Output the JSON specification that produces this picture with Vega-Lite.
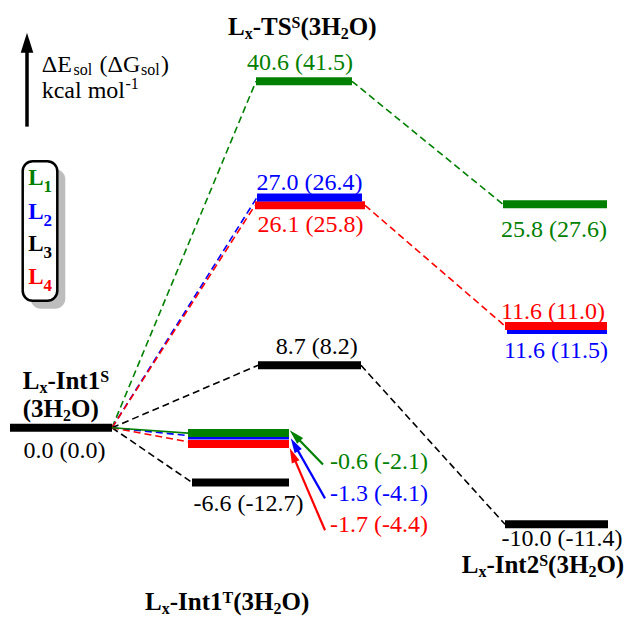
{
  "$schema": "https://vega.github.io/schema/vega-lite/v6.json",
  "width": 629,
  "height": 618,
  "padding": 0,
  "autosize": {"type": "fit", "contains": "padding"},
  "background": "white",
  "config": {"view": {"stroke": null}, "text": {"font": "'Liberation Serif', 'Times New Roman', Times, serif"}},
  "datasets": {
    "legendbox": [
      {"part": "shadow", "x": 30.7, "x2": 65.3, "e": 30.23, "e2": 13.92},
      {"part": "box", "x": 22.7, "x2": 57.3, "e": 31.16, "e2": 14.85}
    ],
    "bars": [
      {"series": "L3", "x": 10, "x2": 112, "e": 0},
      {"series": "L4", "x": 255, "x2": 365, "e": 26.0},
      {"series": "L2", "x": 257, "x2": 362, "e": 26.93},
      {"series": "L1", "x": 256, "x2": 352, "e": 40.5},
      {"series": "L3", "x": 258, "x2": 361, "e": 7.3},
      {"series": "L1", "x": 503, "x2": 607, "e": 26.12},
      {"series": "L2", "x": 507, "x2": 607, "e": 11.44},
      {"series": "L4", "x": 505, "x2": 607, "e": 11.9},
      {"series": "L3", "x": 505, "x2": 608, "e": -11.28},
      {"series": "L4", "x": 188, "x2": 289, "e": -1.9},
      {"series": "L2", "x": 188, "x2": 289, "e": -0.91},
      {"series": "L1", "x": 188, "x2": 289, "e": -0.62},
      {"series": "L3", "x": 192, "x2": 289, "e": -6.39}
    ],
    "dashed": [
      {"series": "L1", "x": 112, "e": 0, "x2": 256, "e2": 40.5},
      {"series": "L1", "x": 352, "e": 40.5, "x2": 503, "e2": 26.12},
      {"series": "L2", "x": 112, "e": 0, "x2": 257, "e2": 26.93},
      {"series": "L4", "x": 112, "e": 0, "x2": 255, "e2": 26.0},
      {"series": "L4", "x": 365, "e": 26.0, "x2": 505, "e2": 11.9},
      {"series": "L3", "x": 112, "e": 0, "x2": 258, "e2": 7.3},
      {"series": "L3", "x": 361, "e": 7.3, "x2": 505, "e2": -11.28},
      {"series": "L3", "x": 112, "e": 0, "x2": 192, "e2": -6.39},
      {"series": "L2", "x": 112, "e": 0, "x2": 188, "e2": -0.91},
      {"series": "L4", "x": 112, "e": 0, "x2": 200, "e2": -1.9}
    ],
    "solid": [
      {"series": "L1", "x": 112, "e": 0, "x2": 188, "e2": -0.62}
    ],
    "arrows": [
      {"series": "L1", "x": 323, "e": -4.29, "x2": 294.9, "e2": -0.91},
      {"series": "L2", "x": 325, "e": -8.25, "x2": 294.5, "e2": -1.97},
      {"series": "L4", "x": 325, "e": -11.98, "x2": 292.7, "e2": -3.17}
    ],
    "vals_center": [
      {"series": "L1", "x": 300, "e": 41.84, "text": "40.6 (41.5)"},
      {"series": "L2", "x": 309.5, "e": 27.75, "text": "27.0 (26.4)"},
      {"series": "L4", "x": 310.5, "e": 22.85, "text": "26.1 (25.8)"},
      {"series": "L1", "x": 554, "e": 22.27, "text": "25.8 (27.6)"},
      {"series": "L4", "x": 553, "e": 12.66, "text": "11.6 (11.0)"},
      {"series": "L2", "x": 556, "e": 8.17, "text": "11.6 (11.5)"},
      {"series": "L3", "x": 316.7, "e": 8.64, "text": "8.7 (8.2)"},
      {"series": "L3", "x": 64.5, "e": -3.59, "text": "0.0 (0.0)"},
      {"series": "L3", "x": 248.5, "e": -9.73, "text": "-6.6 (-12.7)"},
      {"series": "L3", "x": 562, "e": -13.85, "text": "-10.0 (-11.4)"}
    ],
    "vals_left": [
      {"series": "L1", "x": 330, "e": -4.76, "text": "-0.6 (-2.1)"},
      {"series": "L2", "x": 330, "e": -8.57, "text": "-1.3 (-4.1)"},
      {"series": "L4", "x": 330, "e": -12.21, "text": "-1.7 (-4.4)"}
    ],
    "bold_main": [
      {"x": 228, "e": 45.92, "text": "L"},
      {"x": 252.7, "e": 45.92, "text": "-TS"},
      {"x": 300.5, "e": 45.92, "text": "(3H"},
      {"x": 348.8, "e": 45.92, "text": "O)"},
      {"x": 22.7, "e": 4.56, "text": "L"},
      {"x": 47.4, "e": 4.56, "text": "-Int1"},
      {"x": 22.7, "e": 1.3, "text": "(3H"},
      {"x": 71, "e": 1.3, "text": "O)"},
      {"x": 145, "e": -21.3, "text": "L"},
      {"x": 169.7, "e": -21.3, "text": "-Int1"},
      {"x": 233.2, "e": -21.3, "text": "(3H"},
      {"x": 281.5, "e": -21.3, "text": "O)"},
      {"x": 461.7, "e": -16.99, "text": "L"},
      {"x": 486.4, "e": -16.99, "text": "-Int2"},
      {"x": 548.1, "e": -16.99, "text": "(3H"},
      {"x": 596.4, "e": -16.99, "text": "O)"}
    ],
    "bold_small": [
      {"x": 244.7, "e": 45.46, "text": "x"},
      {"x": 340.8, "e": 45.46, "text": "2"},
      {"x": 291.6, "e": 46.74, "text": "S"},
      {"x": 39.4, "e": 4.1, "text": "x"},
      {"x": 100.2, "e": 5.38, "text": "S"},
      {"x": 63, "e": 0.84, "text": "2"},
      {"x": 161.7, "e": -21.77, "text": "x"},
      {"x": 273.5, "e": -21.77, "text": "2"},
      {"x": 222.5, "e": -20.49, "text": "T"},
      {"x": 478.4, "e": -17.46, "text": "x"},
      {"x": 588.4, "e": -17.46, "text": "2"},
      {"x": 539.2, "e": -16.17, "text": "S"}
    ],
    "reg_main": [
      {"x": 41.7, "e": 41.53, "text": "ΔE"},
      {"x": 99.5, "e": 41.53, "text": "(ΔG"},
      {"x": 161, "e": 41.53, "text": ")"},
      {"x": 41.7, "e": 38.55, "text": "kcal mol"}
    ],
    "reg_small": [
      {"x": 73.5, "e": 41.2, "text": "sol"},
      {"x": 141, "e": 41.2, "text": "sol"},
      {"x": 125.5, "e": 39.6, "text": "-1"}
    ],
    "legend_main": [
      {"series": "L1", "x": 28.3, "e": 28.33, "text": "L"},
      {"series": "L2", "x": 28.3, "e": 24.43, "text": "L"},
      {"series": "L3", "x": 28.3, "e": 20.64, "text": "L"},
      {"series": "L4", "x": 28.3, "e": 16.8, "text": "L"}
    ],
    "legend_sub": [
      {"series": "L1", "x": 43.6, "e": 27.51, "text": "1"},
      {"series": "L2", "x": 43.6, "e": 23.61, "text": "2"},
      {"series": "L3", "x": 43.6, "e": 19.83, "text": "3"},
      {"series": "L4", "x": 43.6, "e": 15.98, "text": "4"}
    ],
    "axisline": [
      {"x": 27, "e": 35.2, "e2": 44.2}
    ],
    "axishead": [
      {"x": 27, "e": 44.99}
    ],
    "head1": [{"series": "L1", "x": 294.9, "e": -0.91}],
    "head2": [{"series": "L2", "x": 294.5, "e": -1.97}],
    "head4": [{"series": "L4", "x": 292.7, "e": -3.17}]
  },
  "encoding": {
    "x": {"field": "x", "type": "quantitative", "scale": {"domain": [0, 629], "nice": false, "zero": false}, "axis": null},
    "y": {"field": "e", "type": "quantitative", "scale": {"domain": [-22, 50], "nice": false, "zero": false}, "axis": null}
  },
  "layer": [
    {
      "data": {"name": "legendbox"},
      "transform": [{"filter": "datum.part == 'shadow'"}],
      "mark": {"type": "rect", "fill": "#bdbdbd", "cornerRadius": 10},
      "encoding": {"x2": {"field": "x2"}, "y2": {"field": "e2"}}
    },
    {
      "data": {"name": "legendbox"},
      "transform": [{"filter": "datum.part == 'box'"}],
      "mark": {"type": "rect", "fill": "white", "stroke": "black", "strokeWidth": 2.5, "cornerRadius": 10},
      "encoding": {"x2": {"field": "x2"}, "y2": {"field": "e2"}}
    },
    {
      "data": {"name": "dashed"},
      "mark": {"type": "rule", "strokeWidth": 1.6, "strokeDash": [7, 4]},
      "encoding": {
        "x2": {"field": "x2"}, "y2": {"field": "e2"},
        "color": {"field": "series", "type": "nominal", "scale": {"domain": ["L1", "L2", "L3", "L4"], "range": ["#008000", "#0000ff", "#000000", "#ff0000"]}, "legend": null}
      }
    },
    {
      "data": {"name": "solid"},
      "mark": {"type": "rule", "strokeWidth": 1.6},
      "encoding": {
        "x2": {"field": "x2"}, "y2": {"field": "e2"},
        "color": {"field": "series", "type": "nominal", "scale": {"domain": ["L1", "L2", "L3", "L4"], "range": ["#008000", "#0000ff", "#000000", "#ff0000"]}, "legend": null}
      }
    },
    {
      "data": {"name": "bars"},
      "mark": {"type": "rule", "strokeWidth": 8, "strokeCap": "butt"},
      "encoding": {
        "x2": {"field": "x2"},
        "color": {"field": "series", "type": "nominal", "scale": {"domain": ["L1", "L2", "L3", "L4"], "range": ["#008000", "#0000ff", "#000000", "#ff0000"]}, "legend": null}
      }
    },
    {
      "data": {"name": "arrows"},
      "mark": {"type": "rule", "strokeWidth": 2.2},
      "encoding": {
        "x2": {"field": "x2"}, "y2": {"field": "e2"},
        "color": {"field": "series", "type": "nominal", "scale": {"domain": ["L1", "L2", "L3", "L4"], "range": ["#008000", "#0000ff", "#000000", "#ff0000"]}, "legend": null}
      }
    },
    {
      "data": {"name": "head1"},
      "mark": {"type": "point", "shape": "M0,-1L0.55,1L-0.55,1Z", "filled": true, "size": 225, "opacity": 1, "angle": 316},
      "encoding": {"color": {"field": "series", "type": "nominal", "scale": {"domain": ["L1", "L2", "L3", "L4"], "range": ["#008000", "#0000ff", "#000000", "#ff0000"]}, "legend": null}}
    },
    {
      "data": {"name": "head2"},
      "mark": {"type": "point", "shape": "M0,-1L0.55,1L-0.55,1Z", "filled": true, "size": 225, "opacity": 1, "angle": 330},
      "encoding": {"color": {"field": "series", "type": "nominal", "scale": {"domain": ["L1", "L2", "L3", "L4"], "range": ["#008000", "#0000ff", "#000000", "#ff0000"]}, "legend": null}}
    },
    {
      "data": {"name": "head4"},
      "mark": {"type": "point", "shape": "M0,-1L0.55,1L-0.55,1Z", "filled": true, "size": 225, "opacity": 1, "angle": 337},
      "encoding": {"color": {"field": "series", "type": "nominal", "scale": {"domain": ["L1", "L2", "L3", "L4"], "range": ["#008000", "#0000ff", "#000000", "#ff0000"]}, "legend": null}}
    },
    {
      "data": {"name": "axisline"},
      "mark": {"type": "rule", "strokeWidth": 3.5, "color": "black"},
      "encoding": {"y2": {"field": "e2"}}
    },
    {
      "data": {"name": "axishead"},
      "mark": {"type": "point", "shape": "M0,-1L0.63,1L-0.63,1Z", "filled": true, "size": 400, "opacity": 1, "color": "black"}
    },
    {
      "data": {"name": "vals_center"},
      "mark": {"type": "text", "fontSize": 24, "align": "center", "baseline": "alphabetic"},
      "encoding": {
        "text": {"field": "text"},
        "color": {"field": "series", "type": "nominal", "scale": {"domain": ["L1", "L2", "L3", "L4"], "range": ["#008000", "#0000ff", "#000000", "#ff0000"]}, "legend": null}
      }
    },
    {
      "data": {"name": "vals_left"},
      "mark": {"type": "text", "fontSize": 24, "align": "left", "baseline": "alphabetic"},
      "encoding": {
        "text": {"field": "text"},
        "color": {"field": "series", "type": "nominal", "scale": {"domain": ["L1", "L2", "L3", "L4"], "range": ["#008000", "#0000ff", "#000000", "#ff0000"]}, "legend": null}
      }
    },
    {
      "data": {"name": "bold_main"},
      "mark": {"type": "text", "fontWeight": "bold", "fontSize": 25, "align": "left", "baseline": "alphabetic", "color": "black"},
      "encoding": {"text": {"field": "text"}}
    },
    {
      "data": {"name": "bold_small"},
      "mark": {"type": "text", "fontWeight": "bold", "fontSize": 16, "align": "left", "baseline": "alphabetic", "color": "black"},
      "encoding": {"text": {"field": "text"}}
    },
    {
      "data": {"name": "reg_main"},
      "mark": {"type": "text", "fontSize": 24, "align": "left", "baseline": "alphabetic", "color": "black"},
      "encoding": {"text": {"field": "text"}}
    },
    {
      "data": {"name": "reg_small"},
      "mark": {"type": "text", "fontSize": 16, "align": "left", "baseline": "alphabetic", "color": "black"},
      "encoding": {"text": {"field": "text"}}
    },
    {
      "data": {"name": "legend_main"},
      "mark": {"type": "text", "fontWeight": "bold", "fontSize": 23, "align": "left", "baseline": "alphabetic"},
      "encoding": {
        "text": {"field": "text"},
        "color": {"field": "series", "type": "nominal", "scale": {"domain": ["L1", "L2", "L3", "L4"], "range": ["#008000", "#0000ff", "#000000", "#ff0000"]}, "legend": null}
      }
    },
    {
      "data": {"name": "legend_sub"},
      "mark": {"type": "text", "fontWeight": "bold", "fontSize": 17, "align": "left", "baseline": "alphabetic"},
      "encoding": {
        "text": {"field": "text"},
        "color": {"field": "series", "type": "nominal", "scale": {"domain": ["L1", "L2", "L3", "L4"], "range": ["#008000", "#0000ff", "#000000", "#ff0000"]}, "legend": null}
      }
    }
  ]
}
